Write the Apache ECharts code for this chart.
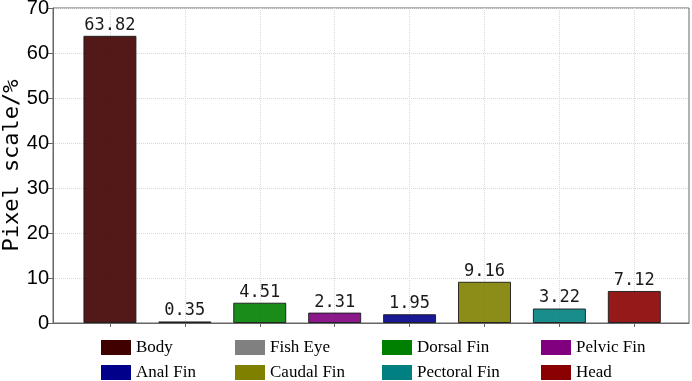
<!DOCTYPE html>
<html>
<head>
<meta charset="utf-8">
<script src="https://cdn.jsdelivr.net/npm/echarts@6/dist/echarts.min.js"></script>
<style>
  html, body { margin: 0; padding: 0; background: #fff; }
  #main { width: 692px; height: 381px; }
</style>
</head>
<body>
<div id="main"></div>
<script>
// data
const categories = ['Body', 'Fish Eye', 'Dorsal Fin', 'Pelvic Fin', 'Anal Fin', 'Caudal Fin', 'Pectoral Fin', 'Head'];
const values = [63.82, 0.35, 4.51, 2.31, 1.95, 9.16, 3.22, 7.12];
const slots = [1, 2, 3, 4, 5, 6, 7, 8]; // x position of each bar
const colors = ['#400000', '#808080', '#008000', '#800080', '#00008b', '#808000', '#008080', '#8b0000'];
const yTicks = [0, 10, 20, 30, 40, 50, 60, 70];

// legend is laid out in 4 columns of 2 rows
const legendColumns = [
  ['Body', 'Anal Fin'],
  ['Fish Eye', 'Caudal Fin'],
  ['Dorsal Fin', 'Pectoral Fin'],
  ['Pelvic Fin', 'Head']
];
const legendLeft = [101, 235, 382, 541];

const chart = echarts.init(document.getElementById('main'));

const series = categories.map((name, i) => ({
  name: name,
  type: 'bar',
  data: [[slots[i], values[i]]],
  barWidth: 53,
  barGap: '-100%',
  itemStyle: {
    color: colors[i],
    opacity: 0.9,
    borderColor: '#1a1a1a',
    borderWidth: 1
  },
  label: {
    show: true,
    position: 'top',
    distance: 2,
    color: '#000',
    fontFamily: 'DejaVu Sans Mono',
    fontSize: 17,
    formatter: p => p.value[1].toFixed(2)
  }
}));

const legends = legendColumns.map((names, c) => ({
  orient: 'vertical',
  left: legendLeft[c],
  top: 339,
  padding: 0,
  itemWidth: 30,
  itemHeight: 15,
  itemGap: 8,
  icon: 'rect',
  selectedMode: false,
  textStyle: { fontFamily: 'Liberation Serif', fontSize: 17, color: '#000' },
  data: names.map(n => ({
    name: n,
    itemStyle: { color: colors[categories.indexOf(n)], opacity: 1, borderWidth: 0 }
  }))
}));

chart.setOption({
  animation: false,
  grid: {
    left: 53, right: 3, top: 8, bottom: 58,
    outerBoundsMode: 'none',
    show: true,
    borderColor: '#666',
    borderWidth: 1
  },
  legend: legends,
  xAxis: {
    type: 'value',
    min: 0.24,
    max: 8.73,
    axisLine: { show: true, lineStyle: { color: '#666' } },
    axisTick: { show: true, length: 4, customValues: slots, lineStyle: { color: '#666' } },
    axisLabel: { show: false, customValues: slots },
    splitLine: { show: true, lineStyle: { color: '#d8d8d8', type: 'dotted' } }
  },
  yAxis: {
    type: 'value',
    min: yTicks[0],
    max: yTicks[yTicks.length - 1],
    interval: 10,
    name: 'Pixel scale/%',
    nameLocation: 'middle',
    nameGap: 30,
    nameMoveOverlap: false,
    nameTextStyle: { fontFamily: 'DejaVu Sans Mono', fontSize: 22, color: '#000' },
    axisLine: { show: true, lineStyle: { color: '#666' } },
    axisTick: { show: true, length: 5, lineStyle: { color: '#666' } },
    axisLabel: { color: '#000', fontFamily: 'Liberation Sans', fontSize: 20, margin: 4 },
    splitLine: { show: true, lineStyle: { color: '#d8d8d8', type: 'dotted' } }
  },
  series: series
});
</script>
</body>
</html>
